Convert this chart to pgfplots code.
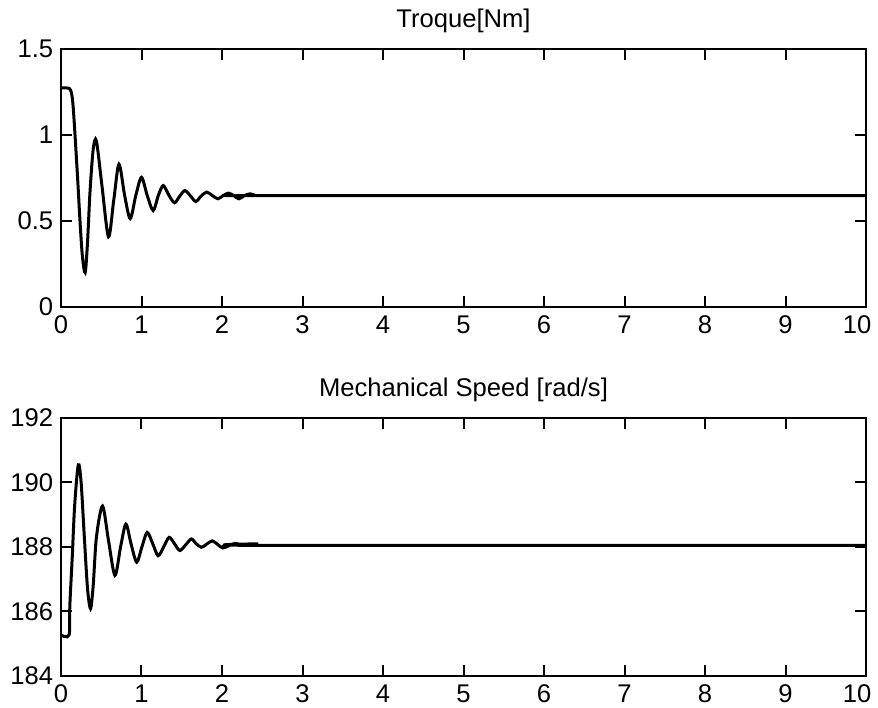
\documentclass[border=0pt]{standalone}
\usepackage{fontspec}
\setmainfont{Liberation Sans}
\usepackage{pgfplots}
\pgfplotsset{compat=1.18}
\begin{document}
\begin{tikzpicture}[font=\fontsize{12.8}{15}\selectfont]
\pgfplotsset{
  myax/.style={
    scale only axis, width=402.5pt, height=129pt,
    xmin=0, xmax=10, xtick={0,1,...,10},
    xticklabels={0,1,2,3,4,5,6,7,8,9,\hspace{-9pt}10},
    tick align=inside, xtick pos=both, ytick pos=both,
    major tick length=5.5pt,
    axis line style={line width=1pt},
    every tick/.style={black, line width=1pt},
    /pgf/number format/assume math mode=true,
    tick label style={font=\fontsize{12.8}{15}\selectfont},
    yticklabel style={xshift=-0.4pt},
    title style={font=\fontsize{12.8}{15}\selectfont, yshift=-1.5pt},
    xticklabel style={yshift=-1pt},
  }
}
\begin{axis}[myax, name=top, ymin=0, ymax=1.5, ytick={0,0.5,1,1.5},
  yticklabels={0,0.5,1,1.5}, title={Troque[Nm]}]
\addplot[black, line width=1.5pt, smooth, tension=0.5] coordinates {
(0,1.273)(0.08,1.273)(0.12,1.26)(0.15,1.17)(0.2,0.80)(0.236,0.50)(0.265,0.3)(0.30,0.2)
(0.33,0.38)(0.36,0.667)(0.40,0.917)(0.44,0.965)(0.51,0.7)(0.59,0.408)(0.655,0.62)
(0.72,0.83)(0.79,0.65)(0.86,0.514)(0.93,0.65)(1.0,0.754)(1.07,0.65)(1.145,0.561)
(1.21,0.65)(1.27,0.706)(1.34,0.65)(1.41,0.606)(1.475,0.645)(1.54,0.677)(1.61,0.645)
(1.675,0.613)(1.74,0.645)(1.81,0.668)(1.88,0.648)(1.95,0.629)(2.015,0.648)(2.08,0.662)
(2.145,0.648)(2.21,0.629)(2.28,0.648)(2.35,0.658)(2.42,0.648)(2.5,0.648)(10,0.648)
};
\end{axis}
\begin{axis}[myax, at={(top.north west)}, anchor=north west, yshift=-184.5pt,
  ymin=184, ymax=192, ytick={184,186,...,192}, title={Mechanical Speed [rad/s]}]
\addplot[black, line width=1.5pt, smooth, tension=0.5] coordinates {
(0,185.27)(0.1,185.27)(0.11,186.2)(0.14,187.7)(0.17,189.3)(0.215,190.55)(0.25,190.0)
(0.29,188.3)(0.33,186.7)(0.367,186.09)(0.40,186.8)(0.44,188.3)(0.516,189.27)(0.59,188.2)
(0.67,187.12)(0.74,188.0)(0.806,188.71)(0.87,188.1)(0.94,187.53)(1.005,188.0)(1.07,188.45)
(1.14,188.1)(1.206,187.73)(1.275,188.0)(1.343,188.30)(1.41,188.1)(1.476,187.89)(1.55,188.07)
(1.62,188.25)(1.68,188.1)(1.745,187.99)(1.81,188.09)(1.88,188.19)(1.945,188.08)(2.01,187.97)
(2.085,188.04)(2.16,188.11)(2.3,188.05)(2.45,188.1)(2.5,188.05)(10,188.05)
};
\end{axis}
\pgfresetboundingbox
\path[use as bounding box] (top.north west) ++(-30.5pt,24.5pt) rectangle ++(439pt,-353.5pt);
\end{tikzpicture}
\end{document}
